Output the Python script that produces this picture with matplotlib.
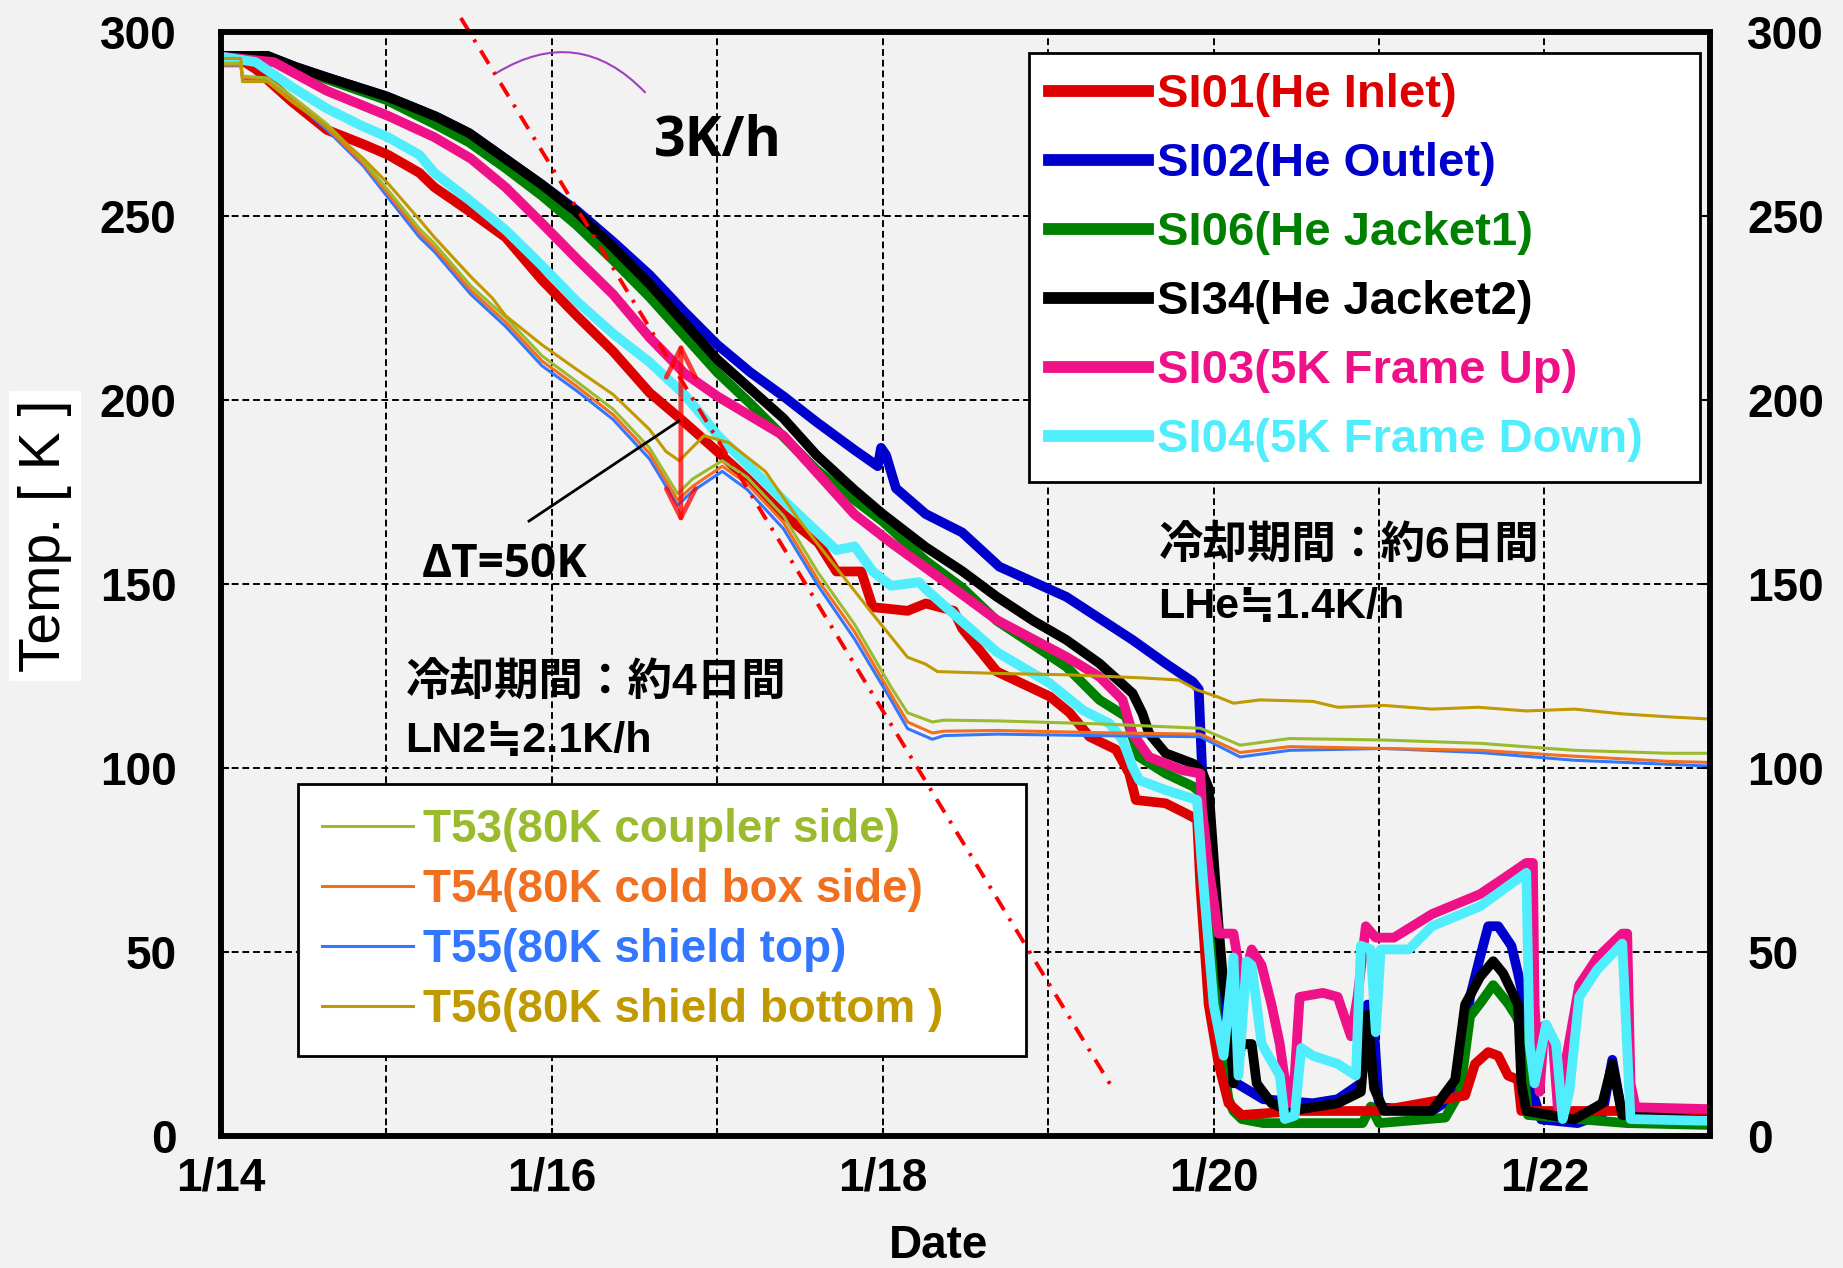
import matplotlib
matplotlib.use('Agg')
import matplotlib.pyplot as plt

# days counted from 1/14 00:00, temperatures in K
si34_d = [0, 0.28, 0.45, 0.65, 1.0, 1.3, 1.5, 1.72, 1.94, 2.15, 2.37, 2.59, 2.8, 3.0, 3.2, 3.4, 3.6, 3.83, 4.0, 4.26,
          4.48, 4.69, 4.91, 5.11, 5.31, 5.51, 5.57, 5.61, 5.71, 5.875, 5.93, 5.97, 6.03, 6.06, 6.09, 6.12, 6.17, 6.23, 6.26, 6.35,
          6.46, 6.75, 6.89, 6.93, 6.97, 7.03, 7.32, 7.46, 7.52, 7.61, 7.69, 7.75, 7.84, 7.86, 7.89, 8.18, 8.35, 8.41, 8.47, 9.0]
si34_t = [293.5, 293.5, 290.5, 287.5, 282.5, 277, 272.5, 265.5, 258.5, 251, 241.5, 231.5, 221, 211, 203, 195, 185, 175.5, 169, 160,
          153.5, 146.5, 140, 134.8, 128.4, 120.3, 114.8, 109.4, 104, 101.2, 99, 94.6, 57, 41, 35.7, 14.3, 25, 25, 14.3, 8.9,
          6.8, 8.9, 12, 33, 13, 6.8, 6.8, 15.3, 35.7, 43.2, 47.5, 44.2, 35.7, 14.3, 6.8, 4.5, 8.9, 19.6, 5.7, 4.1]

si02_d = [0, 0.28, 0.45, 0.65, 1.0, 1.3, 1.5, 1.72, 1.94, 2.15, 2.37, 2.59, 2.8, 3.0, 3.2, 3.4, 3.6, 3.83, 3.97, 3.99,
          4.02, 4.08, 4.26, 4.48, 4.705, 5.11, 5.51, 5.71, 5.875, 5.91, 5.93, 5.97, 6.0, 6.04, 6.07, 6.14, 6.3, 6.6,
          6.75, 6.89, 6.93, 6.96, 7.0, 7.32, 7.43, 7.49, 7.55, 7.61, 7.66, 7.72, 7.8, 7.84, 7.88, 7.91, 7.98, 8.2, 8.35, 8.41,
          8.47, 9.0]
si02_t = [293.5, 293.5, 290.5, 287.5, 282.5, 277, 272.5, 265.5, 258.5, 251.5, 243, 234, 224, 215, 207.5, 201, 194, 186.4, 182, 187,
          185, 176, 169, 164, 154.7, 146.5, 134.8, 128.4, 123.4, 121.4, 100, 80, 68, 35.7, 25, 14.3, 10, 8.9,
          10, 14.3, 35.7, 35.7, 7.8, 6.8, 10, 16.4, 37.8, 48.5, 57, 57, 51.7, 44.2, 35.7, 14.3, 4.5, 3.5, 6, 20.7,
          5.7, 4.5]

si06_d = [0, 0.28, 0.45, 0.65, 1.0, 1.29, 1.5, 1.72, 1.94, 2.15, 2.37, 2.59, 2.8, 3.0, 3.2, 3.4, 3.6, 3.83, 4.0, 4.26,
          4.48, 4.69, 4.91, 5.11, 5.31, 5.47, 5.55, 5.71, 5.875, 5.93, 5.97, 6.0, 6.03, 6.06, 6.09, 6.12, 6.17, 6.3, 6.6, 6.9,
          6.95, 7.0, 7.4, 7.49, 7.55, 7.61, 7.69, 7.78, 7.83, 7.85, 7.9, 8.5, 9.0]
si06_t = [293.5, 293.5, 290, 287, 281.5, 275, 270, 263, 255.5, 247.5, 238, 228, 217.5, 207.5, 199, 190, 181, 172.8, 167, 156.3,
          149, 140, 133.5, 127.5, 118.5, 114, 103, 98.5, 95, 93, 70, 45, 25, 19.6, 10, 6.8, 4.6, 3.5, 3.5, 3.5,
          8, 3.5, 5, 12, 32.5, 36, 41, 36, 32.5, 30.3, 5.7, 3.5, 3]

si01_d = [0, 0.1, 0.21, 0.43, 0.64, 0.86, 1.01, 1.2, 1.29, 1.51, 1.72, 1.94, 2.15, 2.37, 2.59, 2.8, 3.0, 3.18, 3.4, 3.61,
          3.72, 3.87, 3.94, 4.15, 4.26, 4.43, 4.48, 4.69, 5.01, 5.13, 5.25, 5.41, 5.49, 5.53, 5.71, 5.83, 5.9, 5.92, 5.97, 6.03,
          6.09, 6.17, 6.5, 7.0, 7.52, 7.58, 7.66, 7.72, 7.78, 7.84, 7.86, 9.0]
si01_t = [293, 293, 289.9, 281, 273.4, 269.5, 266.6, 261.7, 257.8, 251, 244.2, 232.6, 222.9, 213.2, 202, 194, 186, 178.7, 168.9, 161.2,
          153.4, 153.4, 143.7, 142.7, 144.7, 142.7, 137.9, 126.2, 119.4, 115, 108.5, 105, 98.5, 91.3, 90.4, 87.7, 86, 67.8, 35.7, 19.6,
          8.9, 5.7, 6.8, 6.8, 11, 19.6, 22.8, 21.8, 16.4, 15.3, 6.8, 6.8]

si03_d = [0, 0.32, 0.64, 1.01, 1.29, 1.51, 1.72, 1.94, 2.15, 2.37, 2.59, 2.8, 3.0, 3.4, 3.83, 4.05, 4.26, 4.69, 5.11, 5.31,
          5.45, 5.51, 5.61, 5.81, 5.92, 5.93, 5.97, 6.03, 6.12, 6.14, 6.17, 6.23, 6.29, 6.35, 6.4, 6.45, 6.49, 6.52, 6.66, 6.75,
          6.83, 6.87, 6.92, 6.98, 7.09, 7.32, 7.61, 7.75, 7.89, 7.93, 7.94, 7.97, 8.0, 8.05, 8.08, 8.21, 8.32, 8.47, 8.5, 8.52,
          8.55, 9.0]
si03_t = [293.3, 291.8, 284, 277.2, 271.4, 265.6, 257.8, 248, 238.4, 228.7, 217, 207.3, 201, 190.3, 168.9, 161.2, 154.4, 140.2, 130.2, 124.8,
          118.5, 109.4, 103, 99.4, 98.5, 89, 73, 55, 55, 49.6, 40, 50.7, 46.4, 35.7, 25, 8.9, 16.4, 37.8, 38.9, 37.8,
          27.1, 37.8, 57, 53.9, 53.9, 60.3, 65.7, 69.9, 74.2, 74.2, 35.7, 12, 30, 26, 8, 41, 48.5, 55, 55, 14.3,
          7.8, 7.3]

si04_d = [0, 0.21, 0.43, 0.64, 0.86, 1.01, 1.2, 1.29, 1.51, 1.72, 1.94, 2.15, 2.37, 2.59, 2.8, 2.91, 3.0, 3.4, 3.72, 3.83,
          3.94, 4.05, 4.22, 4.26, 4.48, 4.69, 5.01, 5.21, 5.37, 5.45, 5.51, 5.55, 5.71, 5.9, 5.93, 6.0, 6.06, 6.12, 6.15, 6.2,
          6.23, 6.29, 6.4, 6.43, 6.49, 6.53, 6.6, 6.75, 6.86, 6.89, 6.95, 6.98, 7.01, 7.18, 7.32, 7.61, 7.89, 7.91, 7.94, 8.01,
          8.07, 8.11, 8.15, 8.21, 8.32, 8.47, 8.51, 8.52, 9.0]
si04_t = [293.3, 291.8, 285, 279.2, 274.3, 271.4, 266.6, 261.7, 254, 246.2, 236.5, 226.8, 218, 210.3, 201.5, 195.6, 190.5, 172.8, 159.2, 160.2,
          153.4, 149.5, 150.5, 148.6, 139.8, 131.5, 123, 115.7, 112.1, 107.6, 100.3, 96.7, 94, 91.3, 73, 35.7, 21.8, 48.5, 16.4, 47.5,
          46.4, 25, 16.4, 4.6, 5.5, 23.9, 21.8, 19.6, 16.4, 51.7, 50.7, 28.2, 50.7, 50.7, 57, 62.4, 71.5, 25, 14.3, 30.3,
          25, 4.6, 12, 37.8, 45.3, 52.3, 14.3, 4.6, 4.1]

t56_d = [0, 0.12, 0.13, 0.28, 0.43, 0.64, 0.86, 1.01, 1.2, 1.29, 1.51, 1.64, 1.72, 1.94, 2.15, 2.37, 2.59, 2.69, 2.77, 2.92,
         3.07, 3.29, 3.5, 3.72, 3.94, 4.15, 4.26, 4.33, 4.69, 5.13, 5.56, 5.79, 5.9, 6.02, 6.12, 6.28, 6.6, 6.75, 7.03, 7.32,
         7.6, 7.89, 8.18, 8.47, 8.75, 9.0]
t56_t = [292.8, 292.8, 286.5, 286.5, 281, 274.3, 265.6, 258.8, 249, 244.2, 233.5, 227.7, 222.9, 215, 208.3, 201.5, 192, 186, 183.5, 190.3,
         188.4, 180.6, 167, 154.4, 141.8, 130.1, 128.2, 126.2, 125.7, 125.3, 124.5, 123.9, 121.2, 119.4, 117.6, 118.5, 118.1, 116.5, 117, 116,
         116.5, 115.5, 116, 114.7, 113.9, 113.3]

t5x_d = [0, 0.12, 0.13, 0.28, 0.43, 0.64, 0.86, 1.01, 1.2, 1.29, 1.51, 1.72, 1.94, 2.15, 2.37, 2.59, 2.76, 2.85, 3.03, 3.18,
         3.4, 3.61, 3.83, 4.05, 4.15, 4.3, 4.37, 4.69, 5.3, 5.92, 6.16, 6.46, 7.03, 7.61, 8.18, 8.75, 9.0]
t55_t = [290.8, 290.8, 287.4, 287, 281.6, 273.4, 263.6, 255, 244.2, 240.3, 228.7, 220, 209.3, 202.5, 194.7, 184, 171.4, 175.2, 180.6, 175.7,
         165, 149.5, 135, 118.5, 110.7, 107.8, 108.8, 109.2, 108.8, 108.5, 103, 104.8, 105.3, 104.2, 102.1, 101, 100.5]
t54_t = [291, 291, 287.7, 287.2, 282, 274, 264.3, 256, 245.3, 241.3, 229.8, 221.2, 210.6, 203.7, 196, 185.5, 172.8, 176.5, 182, 177.3,
         166.7, 151, 137, 120, 112.5, 109.5, 110, 110.2, 109.6, 109.2, 104.2, 105.8, 105.3, 104.8, 103.2, 101.8, 101.5]
t53_t = [291.5, 291.5, 288, 287.5, 282.5, 275, 265, 257, 246.5, 242.5, 231, 222.5, 212, 205, 197.5, 187, 174.5, 178.5, 183.5, 179,
         168.5, 153, 139, 122, 115, 112.5, 113, 112.8, 112, 110.8, 106.2, 108, 107.6, 106.7, 104.8, 104, 104]

tick_days = [0, 1, 2, 3, 4, 5, 6, 7, 8, 9]
tick_labels = ['1/14', '', '1/16', '', '1/18', '', '1/20', '', '1/22', '']
temp_ticks = [0, 50, 100, 150, 200, 250, 300]

# 3 K/h reference line and the delta-T marker
rate_d = [1.45, 5.40]
rate_t = [303.8, 12.2]
dT_day = 2.78
dT_top, dT_bottom = 215.6, 166.5

plt.rcParams['font.family'] = ['Liberation Sans', 'Noto Sans CJK JP', 'DejaVu Sans']
plt.rcParams['font.weight'] = 'bold'
bg = '#f2f2f2'

fig = plt.figure(figsize=(18.43, 12.68), dpi=100)
fig.patch.set_facecolor(bg)
ax = fig.add_axes([0.1199, 0.1041, 0.8079, 0.8707])
ax.set_facecolor(bg)

lw = 7
l02, = ax.plot(si02_d, si02_t, color='#0000cc', lw=lw, label='SI02(He Outlet)')
l06, = ax.plot(si06_d, si06_t, color='#008000', lw=lw, label='SI06(He Jacket1)')
l01, = ax.plot(si01_d, si01_t, color='#dd0000', lw=lw, label='SI01(He Inlet)')
l34, = ax.plot(si34_d, si34_t, color='black', lw=lw, label='SI34(He Jacket2)')
l03, = ax.plot(si03_d, si03_t, color='#ee1188', lw=lw, label='SI03(5K Frame Up)')
l04, = ax.plot(si04_d, si04_t, color='#50eefc', lw=lw, label='SI04(5K Frame Down)')

t55, = ax.plot(t5x_d, t55_t, color='#3377ff', lw=2.2, label='T55(80K shield top)')
t54, = ax.plot(t5x_d, t54_t, color='#f07020', lw=2.2, label='T54(80K cold box side)')
t53, = ax.plot(t5x_d, t53_t, color='#9bbb2f', lw=2.2, label='T53(80K coupler side)')
t56, = ax.plot(t56_d, t56_t, color='#c09a00', lw=2.2, label='T56(80K shield bottom )')

ax.plot(rate_d, rate_t, color='red', lw=2.8, linestyle=(0, (4, 2.5, 0.8, 2.5)), clip_on=False, zorder=6)

ax.set_xlim(0, 9)
ax.set_ylim(0, 300)
ax.set_xticks(tick_days)
ax.set_xticklabels(tick_labels)
ax.set_yticks(temp_ticks)
ax.grid(True, color='black', linestyle=(0, (3.5, 2)), linewidth=1.4)
ax.tick_params(axis='both', direction='in', length=6, width=1.5, labelsize=33)
ax.tick_params(axis='y', pad=32)
ax.tick_params(axis='x', pad=15)

ax2 = ax.twinx()
ax2.set_ylim(0, 300)
ax2.set_yticks(temp_ticks)
ax2.tick_params(axis='y', direction='in', length=6, width=1.5, labelsize=33, pad=27)
for a in (ax, ax2):
    for s in a.spines.values():
        s.set_linewidth(4)

# annotations
ax.annotate('', xy=(2.563, 283.6), xytext=(1.667, 288.9),
            arrowprops=dict(arrowstyle='-', color='#a040c0', lw=1.5, connectionstyle='arc3,rad=-0.4',
                            shrinkA=0, shrinkB=0))
ax.text(2.617, 270.5, '3K/h', fontsize=40, family='Open Sans', fontweight='bold', va='center', ha='left')
ax.annotate('', xy=(dT_day, dT_bottom), xytext=(dT_day, dT_top),
            arrowprops=dict(arrowstyle='<->,head_length=0.7,head_width=0.35', mutation_scale=30,
                            color='red', alpha=0.75, lw=3.5, shrinkA=0, shrinkB=0), zorder=6)
ax.plot([1.862, 2.768], [167.1, 194.3], color='black', lw=2, zorder=6)
ax.text(1.214, 155.4, 'ΔT=50K', fontsize=33, family='Open Sans', fontweight='bold', va='center', ha='left')

ax.text(1.115, 123.2, '冷却期間：約4日間', fontsize=32, va='center', ha='left')
ax.text(1.115, 107.2, 'LN2≒2.1K/h', fontsize=31, va='center', ha='left')
ax.text(5.667, 160.5, '冷却期間：約6日間', fontsize=32, va='center', ha='left')
ax.text(5.667, 143.8, 'LHe≒1.4K/h', fontsize=31, va='center', ha='left')

leg1 = ax.legend(handles=[l01, l02, l06, l34, l03, l04], loc='upper left',
                 bbox_to_anchor=(0.5427, 0.594, 0.4506, 0.3867), mode='expand', borderaxespad=0,
                 fontsize=34, labelcolor='linecolor', fancybox=False, edgecolor='black', framealpha=1,
                 borderpad=0.42, labelspacing=0.53, handlelength=2.1, handletextpad=0.2)
leg1.get_frame().set_linewidth(2)
for h in leg1.get_lines():
    h.set_linewidth(8.5)
ax.add_artist(leg1)

leg2 = ax.legend(handles=[t53, t54, t55, t56], loc='upper left',
                 bbox_to_anchor=(0.0517, 0.0797, 0.4889, 0.2391), mode='expand', borderaxespad=0,
                 fontsize=33, labelcolor='linecolor', fancybox=False, edgecolor='black', framealpha=1,
                 borderpad=0.52, labelspacing=0.35, handlelength=2.0, handletextpad=0.2)
leg2.get_frame().set_linewidth(2)

fig.text(45 / 1843, 1 - 536 / 1268, 'Temp. [ K ]', rotation=90, ha='center', va='center', fontsize=41,
         fontweight='normal', bbox=dict(boxstyle='square,pad=0.15', fc='white', ec='none'))
fig.text(939 / 1843, 1 - 1246 / 1268, 'Date', ha='center', va='center', fontsize=33)

fig.savefig('out.png', dpi=100, facecolor=bg)
